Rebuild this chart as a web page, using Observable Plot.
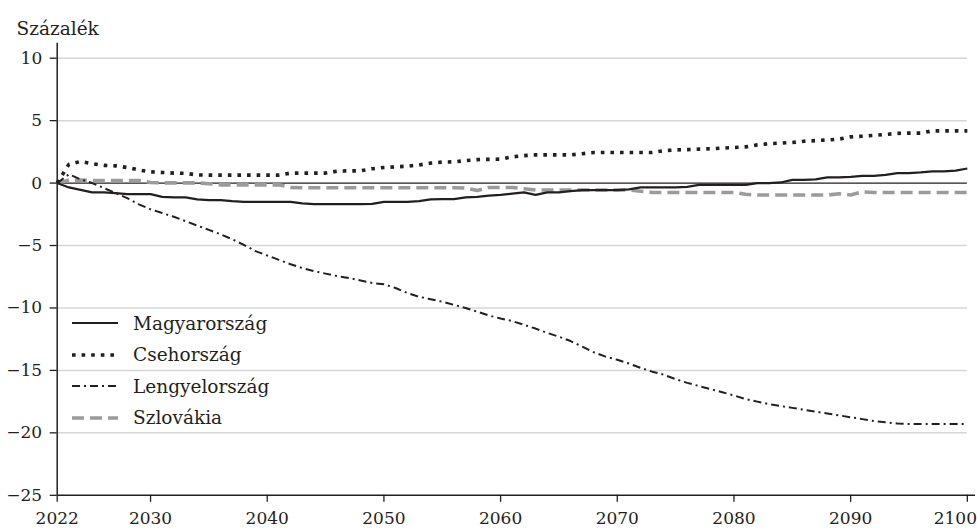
<!DOCTYPE html>
<html><head><meta charset="utf-8">
<script src="https://cdn.jsdelivr.net/npm/d3@7"></script>
<script src="https://cdn.jsdelivr.net/npm/@observablehq/plot@0.6"></script>
<style>
body{margin:0;background:#fff;font-family:"DejaVu Serif",serif;}
#wrap{position:relative;width:977px;height:531px;overflow:hidden;}
#legend{position:absolute;left:72px;top:307.3px;font-size:18.5px;color:#231f20;font-family:"DejaVu Serif",serif;}
.row{display:flex;align-items:center;height:31.5px;white-space:nowrap;}
.row svg{margin-right:15px;display:block;}
</style></head><body>
<div id="wrap"><div id="chart"></div><div id="legend"></div></div>
<script>
const years = d3.range(2022, 2101);
const xTicks = [2022, 2030, 2040, 2050, 2060, 2070, 2080, 2090, 2100];
const yTicks = [-25, -20, -15, -10, -5, 0, 5, 10];
const gridTicks = [-20, -15, -10, -5, 5, 10];
const seriesNames = ["Magyarország", "Csehország", "Lengyelország", "Szlovákia"];

const magyar = [
  0, -0.35, -0.55, -0.75, -0.75, -0.8, -0.88, -0.88, -0.88, -1.1,
  -1.15, -1.15, -1.3, -1.36, -1.36, -1.45, -1.5, -1.5, -1.5, -1.5,
  -1.5, -1.62, -1.68, -1.68, -1.68, -1.68, -1.68, -1.66, -1.5, -1.5,
  -1.5, -1.45, -1.3, -1.28, -1.28, -1.15, -1.1, -1.0, -0.95, -0.85,
  -0.75, -0.95, -0.75, -0.75, -0.65, -0.56, -0.56, -0.56, -0.56, -0.5,
  -0.35, -0.35, -0.35, -0.35, -0.3, -0.15, -0.15, -0.15, -0.15, -0.15,
  0, 0, 0.05, 0.26, 0.26, 0.3, 0.45, 0.45, 0.5, 0.58,
  0.58, 0.65, 0.8, 0.8, 0.85, 0.93, 0.93, 1.0, 1.17
];
const cseh = [
  0, 1.5, 1.73, 1.55, 1.42, 1.38, 1.25, 1.05, 0.9, 0.85,
  0.8, 0.78, 0.65, 0.64, 0.64, 0.64, 0.64, 0.64, 0.64, 0.64,
  0.8, 0.8, 0.8, 0.8, 0.95, 0.98, 0.98, 1.15, 1.25, 1.3,
  1.35, 1.45, 1.6, 1.68, 1.7, 1.8, 1.88, 1.9, 1.92, 2.1,
  2.2, 2.26, 2.26, 2.26, 2.26, 2.35, 2.45, 2.45, 2.45, 2.45,
  2.45, 2.45, 2.6, 2.65, 2.68, 2.72, 2.75, 2.8, 2.85, 2.9,
  3.06, 3.15, 3.2, 3.25, 3.35, 3.4, 3.45, 3.52, 3.7, 3.75,
  3.82, 3.9, 3.98, 4.0, 4.0, 4.18, 4.18, 4.18, 4.18
];
const lengyel = [
  0, 0.7, 0.3, 0, -0.4, -0.8, -1.2, -1.7, -2.1, -2.4,
  -2.7, -3.05, -3.4, -3.75, -4.1, -4.5, -4.95, -5.45, -5.8, -6.15,
  -6.5, -6.8, -7.05, -7.25, -7.45, -7.6, -7.8, -8.0, -8.1, -8.4,
  -8.8, -9.1, -9.3, -9.5, -9.75, -10.0, -10.3, -10.6, -10.85, -11.05,
  -11.35, -11.65, -12.0, -12.3, -12.65, -13.1, -13.55, -13.9, -14.15, -14.45,
  -14.8, -15.1, -15.35, -15.7, -16.0, -16.25, -16.5, -16.75, -17.0, -17.3,
  -17.5, -17.7, -17.85, -18.0, -18.15, -18.3, -18.45, -18.6, -18.75, -18.9,
  -19.05, -19.15, -19.25, -19.3, -19.3, -19.3, -19.3, -19.3, -19.3
];
const szlovak = [
  0, 0.22, 0.24, 0.2, 0.2, 0.2, 0.2, 0.2, 0.05, 0.02,
  0.02, 0.02, 0.02, -0.05, -0.14, -0.14, -0.14, -0.14, -0.14, -0.14,
  -0.35, -0.38, -0.38, -0.38, -0.38, -0.38, -0.38, -0.38, -0.38, -0.38,
  -0.38, -0.38, -0.38, -0.38, -0.38, -0.4, -0.6, -0.35, -0.35, -0.35,
  -0.45, -0.56, -0.56, -0.56, -0.56, -0.56, -0.56, -0.56, -0.56, -0.56,
  -0.65, -0.75, -0.75, -0.75, -0.75, -0.75, -0.75, -0.75, -0.75, -0.9,
  -0.96, -0.96, -0.96, -0.96, -0.96, -0.96, -0.96, -0.85, -0.95, -0.7,
  -0.75, -0.75, -0.75, -0.75, -0.75, -0.75, -0.75, -0.75, -0.75
];

const styles = {
  "Magyarország": {stroke: "#231f20", strokeWidth: 2.2, dash: null},
  "Csehország": {stroke: "#231f20", strokeWidth: 3.6, dash: "3.6 6"},
  "Lengyelország": {stroke: "#231f20", strokeWidth: 2, dash: "8 4 2 4"},
  "Szlovákia": {stroke: "#9b9b9b", strokeWidth: 3.6, dash: "12 6"}
};
const valuesBy = {"Magyarország": magyar, "Csehország": cseh, "Lengyelország": lengyel, "Szlovákia": szlovak};
const table = name => years.map((year, i) => ({year, value: valuesBy[name][i]}));

const drawOrder = ["Szlovákia", "Magyarország", "Lengyelország", "Csehország"];
const lineMarks = drawOrder.map(name => Plot.line(table(name), {
  x: "year", y: "value",
  stroke: styles[name].stroke,
  strokeWidth: styles[name].strokeWidth,
  strokeDasharray: styles[name].dash || undefined,
  strokeLinecap: "butt",
  strokeLinejoin: "miter"
}));

const fmt = d => d < 0 ? "\u2212" + (-d) : String(d);
const FONT = "'DejaVu Serif', serif";

const chart = Plot.plot({
  width: 977, height: 531,
  marginLeft: 56.7, marginRight: 2, marginTop: 42.7, marginBottom: 36.2,
  style: {fontFamily: FONT, fontSize: "17px", color: "#231f20", background: "white"},
  x: {domain: [2022, 2100.7]},
  y: {domain: [-25, 11.2]},
  marks: [
    Plot.ruleY(gridTicks, {x1: 2022, x2: 2100, stroke: "#d6d6d6", strokeWidth: 1.5}),
    Plot.ruleY([0], {x1: 2022, x2: 2100, stroke: "#231f20", strokeWidth: 1.2}),
    ...lineMarks,
    Plot.ruleX([2022], {stroke: "#231f20", strokeWidth: 1.5}),
    Plot.ruleY([-25], {stroke: "#231f20", strokeWidth: 1.5}),
    Plot.axisX({ticks: xTicks, tickSize: 7, text: null, stroke: "#231f20", strokeWidth: 1.3, label: null}),
    Plot.axisX({ticks: xTicks.slice(0, -1), tickFormat: d => String(d), tickSize: 0, tickPadding: 17, label: null, fontSize: 17, fill: "#231f20"}),
    Plot.axisX({ticks: xTicks.slice(-1), tickFormat: d => String(d), tickSize: 0, tickPadding: 17, dx: -12, label: null, fontSize: 17, fill: "#231f20"}),
    Plot.axisY({ticks: yTicks, tickFormat: fmt, tickSize: 7, tickPadding: 8, label: null, stroke: "#231f20", strokeWidth: 1.3, fontSize: 17, fill: "#231f20"}),
    Plot.text(["Százalék"], {frameAnchor: "top-left", dx: -40.7, dy: -21, textAnchor: "start", fontSize: 18.5, fill: "#231f20"})
  ]
});
document.getElementById("chart").appendChild(chart);

const legend = document.getElementById("legend");
seriesNames.forEach(name => {
  const s = styles[name];
  const row = document.createElement("div");
  row.className = "row";
  row.innerHTML = `<svg width="46" height="10"><line x1="0" y1="5" x2="46" y2="5" stroke="${s.stroke}" stroke-width="${s.strokeWidth}" ${s.dash ? `stroke-dasharray="${s.dash}"` : ""}/></svg><span>${name}</span>`;
  legend.appendChild(row);
});
</script>
</body></html>
